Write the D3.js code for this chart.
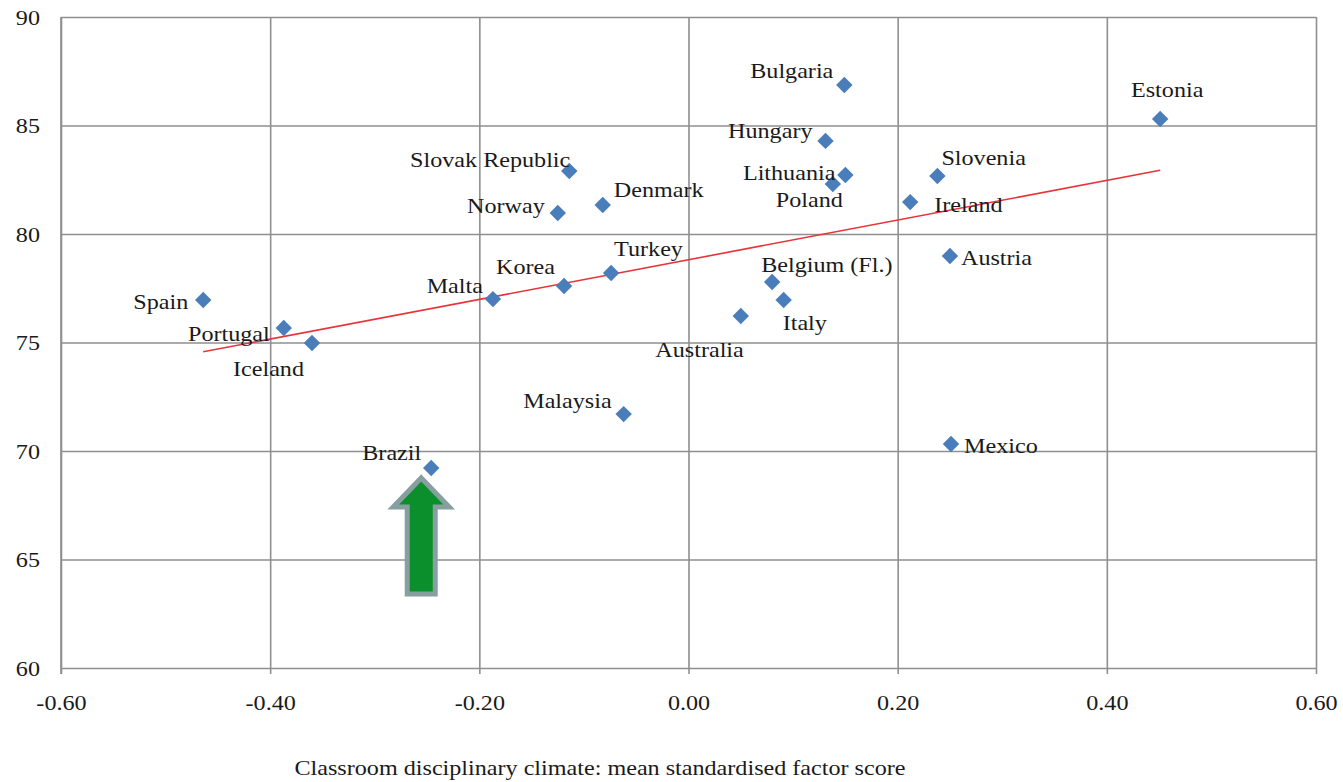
<!DOCTYPE html>
<html>
<head>
<meta charset="utf-8">
<script src="https://cdn.jsdelivr.net/npm/d3@7"></script>
<style>
  html, body { margin: 0; padding: 0; background: #fff; }
  svg { display: block; }
  text { font-family: "Liberation Serif", "Times New Roman", serif; fill: #1a1a1a; }
</style>
</head>
<body>
<svg id="chart" width="1343" height="782"></svg>
<script>
// Countries and their values
const countries = ["Spain", "Portugal", "Iceland", "Brazil", "Malta", "Korea", "Turkey",
  "Slovak Republic", "Norway", "Denmark", "Malaysia", "Australia", "Belgium (Fl.)", "Italy",
  "Bulgaria", "Hungary", "Lithuania", "Poland", "Slovenia", "Ireland", "Austria", "Mexico", "Estonia"];
// Classroom disciplinary climate: mean standardised factor score
const climate = [-0.464, -0.387, -0.360, -0.246, -0.187, -0.119, -0.074,
  -0.114, -0.125, -0.082, -0.062, 0.050, 0.080, 0.091,
  0.149, 0.131, 0.150, 0.138, 0.238, 0.212, 0.250, 0.251, 0.451];
// Outcome (percentage)
const outcome = [76.96, 75.67, 74.98, 69.22, 77.00, 77.60, 78.20,
  82.90, 80.97, 81.34, 71.70, 76.22, 77.79, 76.96,
  86.87, 84.29, 82.72, 82.30, 82.67, 81.47, 78.99, 70.32, 85.30];

const xTicks = [-0.60, -0.40, -0.20, 0.00, 0.20, 0.40, 0.60];
const xTickLabels = ["-0.60", "-0.40", "-0.20", "0.00", "0.20", "0.40", "0.60"];
const yTicks = [60, 65, 70, 75, 80, 85, 90];
const xTitle = "Classroom disciplinary climate: mean standardised factor score";
const highlighted = "Brazil";

// Label placement: [dx, dy, anchor] relative to each marker
const labelPlacement = {
  "Spain": [-15, 9, "end"], "Portugal": [-14, 13, "end"], "Iceland": [-79, 33, "start"],
  "Brazil": [-10, -8, "end"], "Malta": [-10, -6, "end"], "Korea": [-9, -12, "end"],
  "Turkey": [3, -17, "start"], "Slovak Republic": [1, -4, "end"], "Norway": [-13, 0, "end"],
  "Denmark": [11, -8, "start"], "Malaysia": [-12, -6, "end"], "Australia": [3, 41, "end"],
  "Belgium (Fl.)": [-11, -10, "start"], "Italy": [-1, 30, "start"], "Bulgaria": [-11, -7, "end"],
  "Hungary": [-13, -3, "end"], "Lithuania": [-10, 5, "end"], "Poland": [10, 23, "end"],
  "Slovenia": [4, -11, "start"], "Ireland": [24, 10, "start"], "Austria": [11, 9, "start"],
  "Mexico": [13, 9, "start"], "Estonia": [7, -22, "middle"]
};

const FONT = 21, STRETCH = 1.15;   // serif type, slightly widened

const svg = d3.select("#chart");
const margin = { left: 61, right: 27, top: 17, bottom: 114 };
const W = 1343, H = 782;

const x = d3.scaleLinear().domain([-0.6, 0.6]).range([margin.left, W - margin.right]);
const y = d3.scaleLinear().domain([60, 90]).range([H - margin.bottom, margin.top]);

const gridColor = "#8f8f8f";

function widen(sel, tx, ty) {
  sel.attr("x", 0).attr("y", 0)
    .attr("transform", (d, i) => `translate(${typeof tx === "function" ? tx(d, i) : tx},${typeof ty === "function" ? ty(d, i) : ty}) scale(${STRETCH},1)`)
    .style("font-size", FONT + "px")
    .style("font-family", "Liberation Serif, serif")
    .attr("fill", "#1a1a1a");
}

// vertical grid lines plus small ticks below the x axis
const xAxis = d3.axisBottom(x).tickValues(xTicks)
  .tickFormat((d, i) => xTickLabels[i])
  .tickSizeInner(-(y(60) - y(90))).tickSizeOuter(0);
const gx = svg.append("g").attr("transform", `translate(0,${y(60)})`).call(xAxis);
gx.select(".domain").remove();
gx.selectAll(".tick line").attr("stroke", gridColor).attr("stroke-width", 1.6).attr("y1", 6);
gx.selectAll(".tick text").attr("dy", "0.35em").call(widen, 0, 35);

// horizontal grid lines
const yAxis = d3.axisLeft(y).tickValues(yTicks).tickFormat(d3.format("d"))
  .tickSizeInner(-(x(0.6) - x(-0.6))).tickSizeOuter(0);
const gy = svg.append("g").attr("transform", `translate(${x(-0.6)},0)`).call(yAxis);
gy.select(".domain").remove();
gy.selectAll(".tick line").attr("stroke", gridColor).attr("stroke-width", 1.6);
gy.selectAll(".tick text").attr("dy", "0.35em").call(widen, -21, 0);

// left edge of plot area
svg.append("line").attr("x1", x(-0.6)).attr("x2", x(-0.6)).attr("y1", y(90)).attr("y2", y(60) + 6)
  .attr("stroke", gridColor).attr("stroke-width", 1.6);

// Least-squares trend line over the observed x range
const n = climate.length;
const mx = d3.mean(climate), my = d3.mean(outcome);
let sxy = 0, sxx = 0;
for (let i = 0; i < n; i++) { sxy += (climate[i] - mx) * (outcome[i] - my); sxx += (climate[i] - mx) ** 2; }
const slope = sxy / sxx, intercept = my - slope * mx;
const [xmin, xmax] = d3.extent(climate);
svg.append("line")
  .attr("x1", x(xmin)).attr("y1", y(intercept + slope * xmin))
  .attr("x2", x(xmax)).attr("y2", y(intercept + slope * xmax))
  .attr("stroke", "#e8333a").attr("stroke-width", 1.6);

// markers
const pts = countries.map((c, i) => ({ name: c, cx: climate[i], cy: outcome[i] }));
const diamond = d3.symbol().type(d3.symbolSquare).size(135);
svg.append("g").selectAll("path").data(pts).join("path")
  .attr("d", diamond)
  .attr("transform", d => `translate(${x(d.cx)},${y(d.cy)}) rotate(45)`)
  .attr("fill", "#4a7ebb");

// labels
svg.append("g").selectAll("text").data(pts).join("text")
  .attr("text-anchor", d => labelPlacement[d.name][2])
  .text(d => d.name)
  .call(widen, d => x(d.cx) + labelPlacement[d.name][0], d => y(d.cy) + labelPlacement[d.name][1]);

// arrow pointing to the highlighted country
const hi = pts.find(p => p.name === highlighted);
const tipX = x(hi.cx) - 10, tipY = y(hi.cy) + 10;
const arrow = d3.path();
arrow.moveTo(tipX, tipY);
arrow.lineTo(tipX + 28, tipY + 29);
arrow.lineTo(tipX + 14, tipY + 29);
arrow.lineTo(tipX + 14, tipY + 116);
arrow.lineTo(tipX - 14, tipY + 116);
arrow.lineTo(tipX - 14, tipY + 29);
arrow.lineTo(tipX - 28, tipY + 29);
arrow.closePath();
svg.append("path").attr("d", arrow.toString())
  .attr("fill", "#0a8f2c").attr("stroke", "#879f9f").attr("stroke-width", 5)
  .attr("stroke-linejoin", "miter");

// x axis title
svg.append("text").attr("text-anchor", "middle").text(xTitle).call(widen, 600, 775);
</script>
</body>
</html>
